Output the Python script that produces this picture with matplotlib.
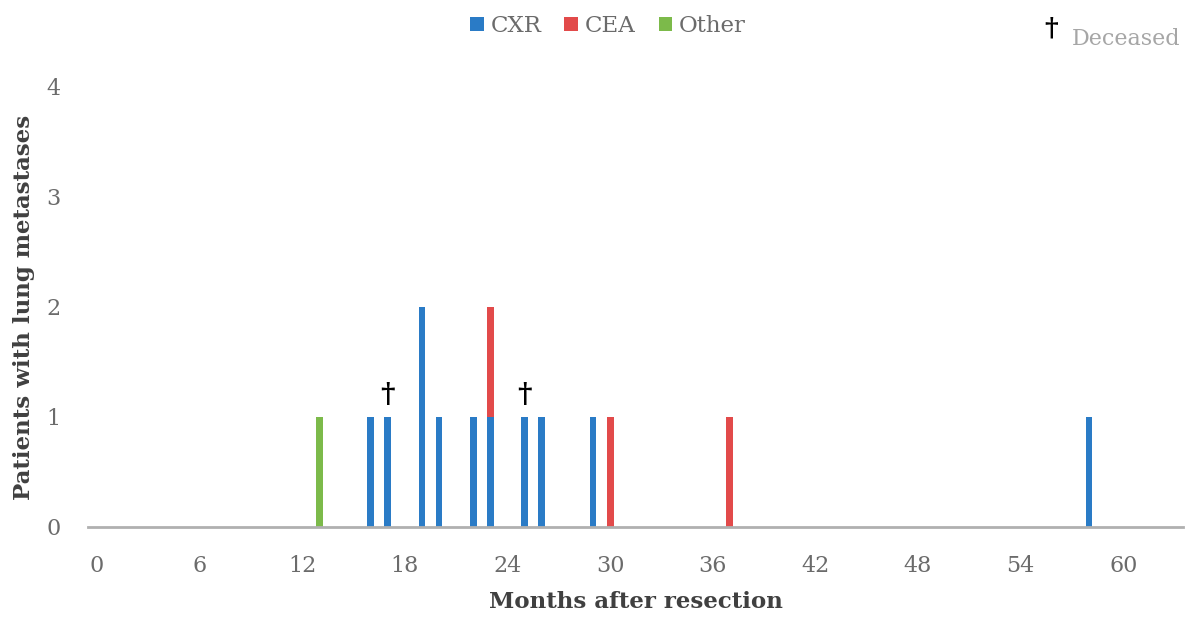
import numpy as np
import matplotlib.pyplot as plt

months = np.arange(0, 64)
cxr_months = [16, 17, 19, 20, 22, 23, 25, 26, 29, 58]
cxr_counts = [1, 1, 2, 1, 1, 1, 1, 1, 1, 1]
cea_months = [23, 30, 37]
cea_counts = [1, 1, 1]
other_months = [13]
other_counts = [1]
deceased_months = [17, 25]
deceased_level = [1, 1]

cxr = np.zeros(len(months))
cea = np.zeros(len(months))
other = np.zeros(len(months))
for m, c in zip(cxr_months, cxr_counts):
    cxr[m] = c
for m, c in zip(cea_months, cea_counts):
    cea[m] = c
for m, c in zip(other_months, other_counts):
    other[m] = c

plt.rcParams['font.family'] = ['DejaVu Serif']

fig = plt.figure(figsize=(11.92, 6.17), dpi=100)
ax = fig.add_axes([0.0742, 0.1459, 0.9183, 0.7131])

w = 0.4
b1 = ax.bar(months, cxr, width=w, color='#2a7bc6', label='CXR')
b2 = ax.bar(months, cea, width=w, bottom=cxr, color='#e24a4a', label='CEA')
b3 = ax.bar(months, other, width=w, bottom=cxr + cea, color='#7cba4a', label='Other')

for m, lv in zip(deceased_months, deceased_level):
    ax.text(m, lv + 0.07, '\u2020', ha='center', va='bottom', fontsize=20,
            fontweight='bold', color='black')

ax.set_xlim(-0.5, 63.5)
ax.set_ylim(0, 4)
ax.set_xticks(np.arange(0, 61, 6))
ax.set_yticks([0, 1, 2, 3, 4])
ax.tick_params(axis='both', length=0, labelsize=16, colors='#6b6b6b')
ax.tick_params(axis='x', pad=20)
ax.tick_params(axis='y', pad=20)
for s in ['top', 'right', 'left']:
    ax.spines[s].set_visible(False)
ax.spines['bottom'].set_color('#b0b0b0')
ax.spines['bottom'].set_linewidth(2)

ax.set_xlabel('Months after resection', fontsize=16.5, fontweight='bold', color='#404040', labelpad=10)
ax.set_ylabel('Patients with lung metastases', fontsize=16.5, fontweight='bold', color='#404040', labelpad=8)

fig.legend(handles=[b1, b2, b3], loc='center', bbox_to_anchor=(0.51, 0.958), ncol=3,
           frameon=False, fontsize=16.5, handlelength=0.6, handleheight=0.6,
           handletextpad=0.3, columnspacing=1.0, labelcolor='#6b6b6b')

fig.text(0.882, 0.955, '\u2020', fontsize=19, fontweight='bold', color='black',
         ha='center', va='center')
fig.text(0.899, 0.936, 'Deceased', fontsize=16, color='#a6a6a6', ha='left', va='center')

fig.savefig('out.png', dpi=100)
